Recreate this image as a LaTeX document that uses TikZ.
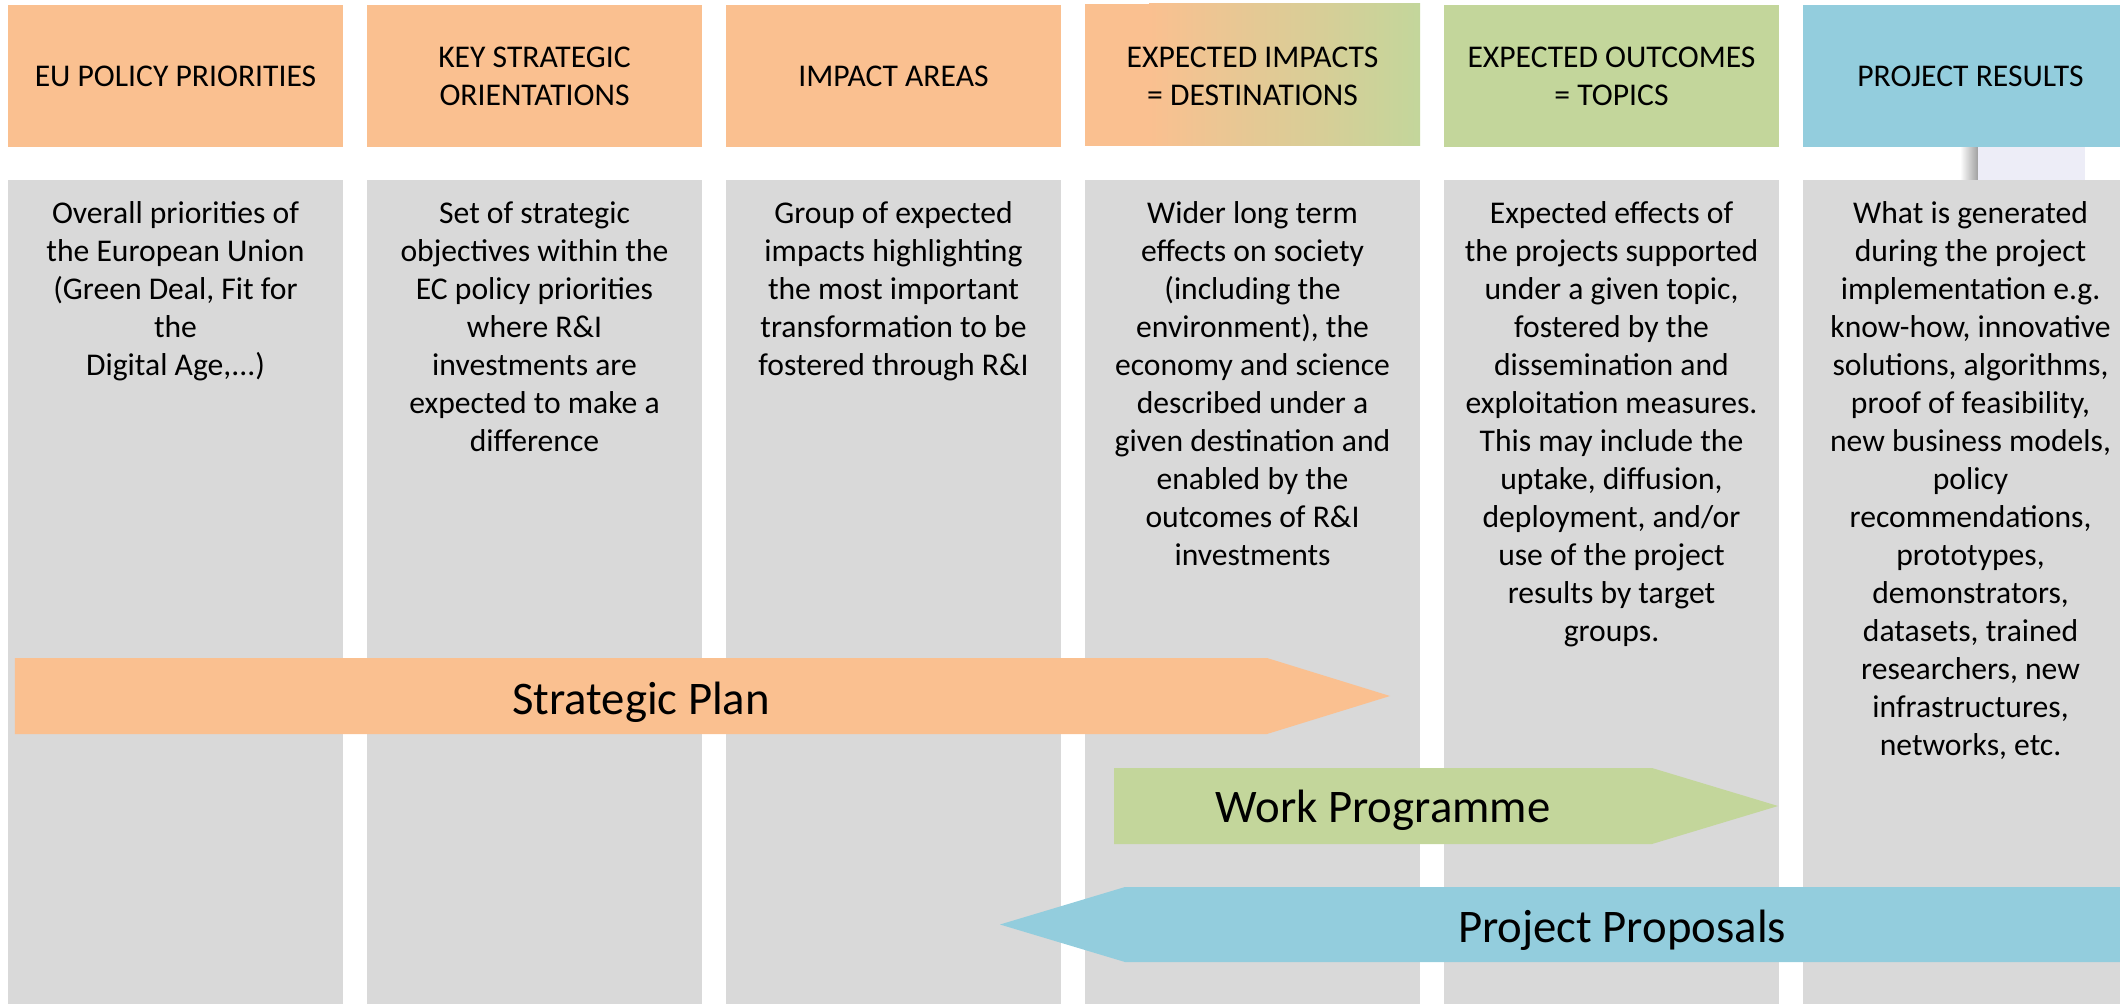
\documentclass[tikz,border=0pt]{standalone}
\usepackage{fontspec}
\setmainfont{Carlito}
\definecolor{planorange}{HTML}{FAC090}
\definecolor{wpgreen}{HTML}{C3D69B}
\definecolor{propblue}{HTML}{93CDDD}
\definecolor{colgray}{HTML}{D9D9D9}
\definecolor{slidebg}{HTML}{EDEDF7}
\tikzset{
  head/.style={minimum width=3.35cm, minimum height=1.42cm, align=center, inner sep=0pt, font=\fontsize{9}{10.8}\selectfont},
  desc/.style={anchor=north, align=center, inner sep=0pt, font=\fontsize{9}{10.8}\selectfont},
  bigtext/.style={inner sep=0pt, font=\fontsize{13.3}{16}\selectfont}
}
\begin{document}
\begin{tikzpicture}
\useasboundingbox (0,0) rectangle (21.2,10.04);
\clip (0,0) rectangle (21.2,10.04);
% grey columns
\foreach \i in {0,...,5}
  \fill[colgray] ({0.08+3.59*\i},0) rectangle ++(3.35,8.24);
% bit of the slide background
\shade[left color=white, right color=gray!75] (19.60,8.24) rectangle (19.78,8.58);
\fill[slidebg] (19.78,8.24) rectangle (20.85,8.58);
% headers
\node[head, fill=planorange] (h1) at (1.755,9.28) {EU POLICY PRIORITIES};
\node[head, fill=planorange] (h2) at (5.345,9.28) {KEY STRATEGIC\\ORIENTATIONS};
\node[head, fill=planorange] (h3) at (8.935,9.28) {IMPACT AREAS};
\fill[planorange] (10.85,8.58) rectangle (11.50,10.00);
\shade[left color=planorange, right color=wpgreen] (11.49,8.58) rectangle (14.20,10.00);
\node[head] (h4) at (12.525,9.28) {EXPECTED IMPACTS\\= DESTINATIONS};
\node[head, fill=wpgreen] (h5) at (16.115,9.28) {EXPECTED OUTCOMES\\= TOPICS};
\node[head, fill=propblue] (h6) at (19.705,9.28) {PROJECT RESULTS};
% column texts
\node[desc] (d1) at (1.755,8.03) {Overall priorities of\\the European Union\\(Green Deal, Fit for\\the\\Digital Age,...)};
\node[desc] (d2) at (5.345,8.03) {Set of strategic\\objectives within the\\EC policy priorities\\where R\&I\\investments are\\expected to make a\\difference};
\node[desc] (d3) at (8.935,8.03) {Group of expected\\impacts highlighting\\the most important\\transformation to be\\fostered through R\&I};
\node[desc] (d4) at (12.525,8.03) {Wider long term\\effects on society\\(including the\\environment), the\\economy and science\\described under a\\given destination and\\enabled by the\\outcomes of R\&I\\investments};
\node[desc] (d5) at (16.115,8.03) {Expected effects of\\the projects supported\\under a given topic,\\fostered by the\\dissemination and\\exploitation measures.\\This may include the\\uptake, diffusion,\\deployment, and/or\\use of the project\\results by target\\groups.};
\node[desc] (d6) at (19.705,8.03) {What is generated\\during the project\\implementation e.g.\\know-how, innovative\\solutions, algorithms,\\proof of feasibility,\\new business models,\\policy\\recommendations,\\prototypes,\\demonstrators,\\datasets, trained\\researchers, new\\infrastructures,\\networks, etc.};
% the three arrows
\fill[planorange] (0.15,2.70) -- (12.67,2.70) -- (13.90,3.08) -- (12.67,3.46) -- (0.15,3.46) -- cycle;
\node[bigtext] (sp) at (6.41,3.02) {Strategic Plan};
\fill[wpgreen] (11.14,1.60) -- (16.52,1.60) -- (17.78,1.98) -- (16.52,2.36) -- (11.14,2.36) -- cycle;
\node[bigtext] (wp) at (13.83,1.94) {Work Programme};
\fill[propblue] (21.2,0.42) -- (11.25,0.42) -- (10.00,0.795) -- (11.25,1.17) -- (21.2,1.17) -- cycle;
\node[bigtext] (pp) at (16.22,0.74) {Project Proposals};
\end{tikzpicture}
\end{document}
